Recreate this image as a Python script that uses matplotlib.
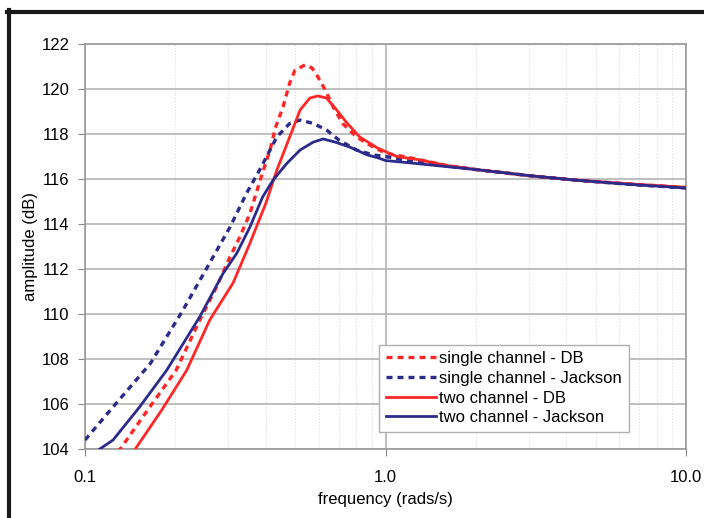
import numpy as np
import matplotlib
matplotlib.use("Agg")
import matplotlib.pyplot as plt
from matplotlib.lines import Line2D
from matplotlib.ticker import FixedLocator, NullFormatter

plt.rcParams['font.family'] = ['Liberation Sans', 'DejaVu Sans']

### data

# single channel - DB (red, dashed)
f_sdb = [0.12, 0.131, 0.161, 0.201, 0.241, 0.274, 0.304, 0.328, 0.354, 0.383, 0.413, 0.43,
         0.456, 0.48, 0.5, 0.54, 0.57, 0.595, 0.63, 0.67, 0.72, 0.80, 0.91, 1.0, 1.2, 1.6,
         2.0, 3.0, 4.3, 6.5, 10.0]
a_sdb = [103.6, 104.0, 105.7, 107.5, 109.73, 111.2, 112.55, 113.44, 114.47, 115.96, 117.3, 118.27,
         119.2, 120.27, 120.84, 121.07, 120.93, 120.55, 119.96, 119.2, 118.47, 117.87, 117.42,
         117.15, 116.95, 116.6, 116.42, 116.15, 115.95, 115.78, 115.62]

# single channel - Jackson (blue, dashed)
f_sj = [0.1, 0.124, 0.165, 0.212, 0.26, 0.304, 0.345, 0.383, 0.435, 0.48, 0.52, 0.575,
        0.636, 0.70, 0.80, 0.91, 1.0, 1.2, 1.6, 2.0, 3.0, 4.3, 6.5, 10.0]
a_sj = [104.4, 105.87, 107.8, 110.18, 112.27, 113.87, 115.37, 116.45, 117.87, 118.47, 118.62, 118.47,
        118.18, 117.73, 117.29, 117.07, 117.0, 116.8, 116.58, 116.42, 116.15, 115.95, 115.76, 115.6]

# two channel - DB (red, solid)
f_tdb = [0.135, 0.147, 0.18, 0.218, 0.26, 0.311, 0.354, 0.4, 0.435, 0.48, 0.52, 0.56, 0.595,
         0.636, 0.68, 0.74, 0.82, 0.94, 1.09, 1.3, 1.6, 2.0, 3.0, 4.3, 6.5, 10.0]
a_tdb = [103.5, 104.0, 105.73, 107.5, 109.73, 111.38, 113.15, 114.93, 116.4, 117.87, 119.07, 119.6,
         119.69, 119.6, 119.15, 118.53, 117.87, 117.38, 117.0, 116.85, 116.6, 116.42, 116.15,
         115.95, 115.78, 115.63]

# two channel - Jackson (blue, solid)
f_tj = [0.112, 0.124, 0.152, 0.187, 0.241, 0.288, 0.32, 0.354, 0.39, 0.423, 0.47, 0.52, 0.575,
        0.62, 0.68, 0.76, 0.87, 0.95, 1.0, 1.2, 1.6, 2.0, 3.0, 4.3, 6.5, 10.0]
a_tj = [104.0, 104.4, 105.87, 107.5, 109.88, 111.8, 112.7, 113.87, 115.2, 115.96, 116.7, 117.29,
        117.64, 117.78, 117.64, 117.42, 117.07, 116.93, 116.82, 116.72, 116.55, 116.42, 116.15,
        115.95, 115.76, 115.6]

y_ticks = [104, 106, 108, 110, 112, 114, 116, 118, 120, 122]
x_ticks = [0.1, 1.0, 10.0]
x_labels = ['0.1', '1.0', '10.0']

RED = '#ff2626'
NAVY = '#2b2b8c'

# Figure
fig = plt.figure(figsize=(7.04, 5.18), dpi=100, facecolor='w')
ax = fig.add_axes([85/704, 1-449/518, 601/704, 405/518])

# Plot
ax.plot(f_sdb, a_sdb, color=RED, lw=2.4, dashes=(1.8, 1.5), label='single channel - DB', zorder=3)
ax.plot(f_sj, a_sj, color=NAVY, lw=2.4, dashes=(1.8, 1.5), label='single channel - Jackson', zorder=3)
ax.plot(f_tdb, a_tdb, color=RED, lw=2.0, label='two channel - DB', zorder=4)
ax.plot(f_tj, a_tj, color=NAVY, lw=2.0, label='two channel - Jackson', zorder=4)

# Scale / limits
ax.set_xscale('log')
ax.set_xlim(0.1, 10.0)
ax.set_ylim(104, 122)

# Ticks
ax.set_xticks(x_ticks)
ax.set_xticklabels(x_labels)
minors = [m * d for d in (0.1, 1.0) for m in range(2, 10)]
ax.xaxis.set_minor_locator(FixedLocator(minors))
ax.xaxis.set_minor_formatter(NullFormatter())
ax.set_yticks(y_ticks)
ax.tick_params(axis='both', which='major', labelsize=12, color='#888888', length=5, pad=6)
ax.tick_params(axis='x', which='minor', length=0)
ax.tick_params(axis='x', which='major', pad=10)

# Grid
ax.grid(True, which='major', axis='y', color='#b4b4b4', lw=1.2, ls='-')
ax.grid(True, which='major', axis='x', color='#b4b4b4', lw=1.2, ls='-')
ax.grid(True, which='minor', axis='x', color='#dcdcdc', lw=0.8, ls=':')
ax.set_axisbelow(True)

for s in ax.spines.values():
    s.set_color('#999999')
    s.set_linewidth(1.2)

# Text
ax.set_xlabel('frequency (rads/s)', fontsize=12, labelpad=5)
ax.set_ylabel('amplitude (dB)', fontsize=12, labelpad=3)

leg = ax.legend(loc='lower left', bbox_to_anchor=(0.49, 0.042), borderaxespad=0, fontsize=12,
                handlelength=3.0, handletextpad=0.2, labelspacing=0.28,
                borderpad=0.4, fancybox=False, framealpha=1, edgecolor='#b0b0b0')
leg.get_frame().set_linewidth(1.0)

# black frame on top and left of the picture
fig.add_artist(Line2D([7/704, 1.0], [1-11.5/518, 1-11.5/518], color='#1a1a1a', lw=3, transform=fig.transFigure))
fig.add_artist(Line2D([9/704, 9/704], [0.0, 1-10/518], color='#1a1a1a', lw=3, transform=fig.transFigure))

fig.savefig('out.png', dpi=100, facecolor='w')
